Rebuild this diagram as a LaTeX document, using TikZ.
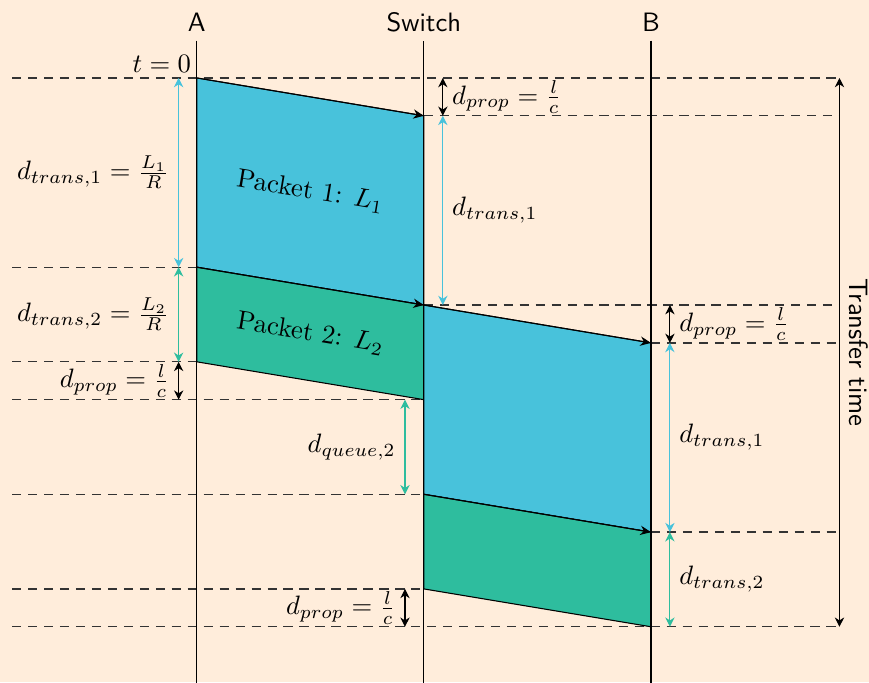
\documentclass[tikz,border=0pt]{standalone}
\usetikzlibrary{arrows.meta}

\definecolor{bgcol}{HTML}{FFEDDB}
\definecolor{pkone}{HTML}{48C2DB}
\definecolor{pktwo}{HTML}{2EBD9E}

\tikzset{
  station/.style={font=\sffamily},
  timeline/.style={line width=0.5pt, dash pattern=on 3.5pt off 2.5pt, black!80},
  span/.style={thin, {Stealth[length=3.5pt,width=3.5pt]}-{Stealth[length=3.5pt,width=3.5pt]}},
  bitflow/.style={thin, -{Stealth[length=4pt,width=3.5pt]}},
}

\begin{document}
\begin{tikzpicture}

    % background and frame
    \fill[bgcol] (-2.6,1.03) rectangle (8.88,-7.98);
    \useasboundingbox (-2.6,1.03) rectangle (8.88,-7.98);

    % stations
    \node[station] (A) at (0,0.74) {A};
    \node[station] (Sw) at (3,0.74) {Switch};
    \node[station] (B) at (6,0.74) {B};
    \coordinate (bot) at (0,-8.1);
    \coordinate (L) at (-2.44,0);
    \coordinate (R) at (8.49,0);

    % events on A, Switch and B
    \coordinate (A0) at (0,0);
    \coordinate (A1) at (0,-2.5);
    \coordinate (A2) at (0,-3.75);
    \coordinate (S0) at (3,-0.5);
    \coordinate (S1) at (3,-3);
    \coordinate (S2) at (3,-4.25);
    \coordinate (S3) at (3,-5.5);
    \coordinate (S4) at (3,-6.75);
    \coordinate (B0) at (6,-3.5);
    \coordinate (B1) at (6,-6);
    \coordinate (B2) at (6,-7.25);

    % dashed time marks
    \draw[timeline] (L |- A0) -- (R |- A0);
    \draw[timeline] (S0) -- (R |- S0);
    \draw[timeline] (L |- A1) -- (A1);
    \draw[timeline] (S1) -- (R |- S1);
    \draw[timeline] (B0) -- (R |- B0);
    \draw[timeline] (L |- A2) -- (A2);
    \draw[timeline] (L |- S2) -- (S2);
    \draw[timeline] (L |- S3) -- (S3);
    \draw[timeline] (B1) -- (R |- B1);
    \draw[timeline] (L |- S4) -- (S4);
    \draw[timeline] (L |- B2) -- (R |- B2);

    % packets from A to the switch
    \filldraw[fill=pkone, thin] (A0) -- (A1) -- (S1) -- (S0) -- cycle;
    \filldraw[fill=pktwo, thin] (A1) -- (A2) -- (S2) -- (S1) -- cycle;
    % packets from the switch to B
    \filldraw[fill=pkone, thin] (S1) -- (S3) -- (B1) -- (B0) -- cycle;
    \filldraw[fill=pktwo, thin] (S3) -- (S4) -- (B2) -- (B1) -- cycle;
    \draw[bitflow] (A0) -- (S0);
    \draw[bitflow] (A1) -- (S1);
    \draw[bitflow] (S1) -- (B0);
    \draw[bitflow] (S3) -- (B1);

    \node[rotate=-9.46] (p1) at (1.5,-1.5) {Packet 1: $L_1$};
    \node[rotate=-9.46] (p2) at (1.5,-3.375) {Packet 2: $L_2$};

    % station lines
    \draw[thin] (A.south) -- (A.south |- bot);
    \draw[thin] (Sw.south) -- (Sw.south |- bot);
    \draw[thin] (B.south) -- (B.south |- bot);

    \node[above left, inner sep=2pt] (t0) at (A0) {$t=0$};

    % delays at A
    \draw[span, pkone] ([xshift=-0.24cm]A0) -- ([xshift=-0.24cm]A1)
        node[midway, left, text=black] {$d_{trans,1} = \frac{L_1}{R}$};
    \draw[span, pktwo] ([xshift=-0.24cm]A1) -- ([xshift=-0.24cm]A2)
        node[midway, left, text=black] {$d_{trans,2} = \frac{L_2}{R}$};
    \draw[span] ([xshift=-0.24cm]A2) -- ([xshift=-0.24cm]A2 |- S2)
        node[midway, left] {$d_{prop} = \frac{l}{c}$};

    % delays at the switch
    \draw[span] ([xshift=0.25cm]S0 |- A0) -- ([xshift=0.25cm]S0)
        node[midway, right] {$d_{prop} = \frac{l}{c}$};
    \draw[span, pkone] ([xshift=0.25cm]S0) -- ([xshift=0.25cm]S1)
        node[midway, right, text=black] {$d_{trans,1}$};
    \draw[span, pktwo] ([xshift=-0.25cm]S2) -- ([xshift=-0.25cm]S3)
        node[midway, left, text=black] {$d_{queue,2}$};
    \draw[span] ([xshift=-0.25cm]S4) -- ([xshift=-0.25cm]S4 |- B2)
        node[midway, left] {$d_{prop} = \frac{l}{c}$};

    % delays at B
    \draw[span] ([xshift=0.25cm]B0 |- S1) -- ([xshift=0.25cm]B0)
        node[midway, right] {$d_{prop} = \frac{l}{c}$};
    \draw[span, pkone] ([xshift=0.25cm]B0) -- ([xshift=0.25cm]B1)
        node[midway, right, text=black] {$d_{trans,1}$};
    \draw[span, pktwo] ([xshift=0.25cm]B1) -- ([xshift=0.25cm]B2)
        node[midway, right, text=black] {$d_{trans,2}$};

    % total
    \draw[span] (R |- A0) -- (R |- B2)
        node[midway, rotate=-90, anchor=south, station] (tt) {Transfer time};

\end{tikzpicture}
\end{document}
